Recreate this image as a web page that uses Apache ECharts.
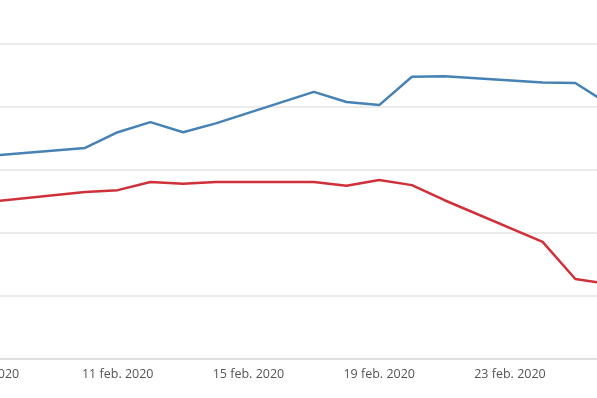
<!DOCTYPE html>
<html>
<head>
<meta charset="utf-8">
<script src="https://cdn.jsdelivr.net/npm/echarts@6/dist/echarts.min.js"></script>
<style>html,body{margin:0;padding:0;background:#fff;}#c{width:597px;height:398px;}</style>
</head>
<body>
<div id="c"></div>
<script>
const categories = ["7 feb. 2020","8 feb. 2020","9 feb. 2020","10 feb. 2020","11 feb. 2020","12 feb. 2020","13 feb. 2020","14 feb. 2020","15 feb. 2020","16 feb. 2020","17 feb. 2020","18 feb. 2020","19 feb. 2020","20 feb. 2020","21 feb. 2020","22 feb. 2020","23 feb. 2020","24 feb. 2020","25 feb. 2020","26 feb. 2020"];
const blueValues = [3.22, null, null, 3.35, 3.60, 3.76, 3.60, 3.74, null, null, 4.24, 4.08, 4.03, 4.48, 4.49, null, null, 4.39, 4.38, 4.05];
const redValues  = [2.49, null, null, 2.65, 2.68, 2.81, 2.78, 2.81, null, null, 2.81, 2.75, 2.84, 2.76, 2.52, null, null, 1.86, 1.27, 1.19];

const chart = echarts.init(document.getElementById('c'), null, {renderer: 'canvas'});
chart.setOption({
  animation: false,
  grid: {left: -13, right: -11, top: 44, bottom: 39, containLabel: false, outerBoundsMode: 'none'},
  xAxis: {
    type: 'category',
    data: categories,
    boundaryGap: false,
    axisLine: {show: true, lineStyle: {color: '#e0e0e0', width: 2}},
    axisTick: {show: false},
    axisLabel: {interval: 3, color: '#555', fontSize: 12.5, fontFamily: 'Open Sans', margin: 9, hideOverlap: false},
    splitLine: {show: false}
  },
  yAxis: {
    type: 'value',
    min: 0, max: 5, interval: 1,
    axisLabel: {show: false},
    axisLine: {show: false},
    axisTick: {show: false},
    splitLine: {lineStyle: {color: '#ebebeb', width: 2}}
  },
  series: [
    {type: 'line', data: blueValues, connectNulls: true, symbol: 'none', lineStyle: {color: '#4682b4', width: 2.5}},
    {type: 'line', data: redValues, connectNulls: true, symbol: 'none', lineStyle: {color: '#d0303a', width: 2.5}}
  ]
});
</script>
</body>
</html>
